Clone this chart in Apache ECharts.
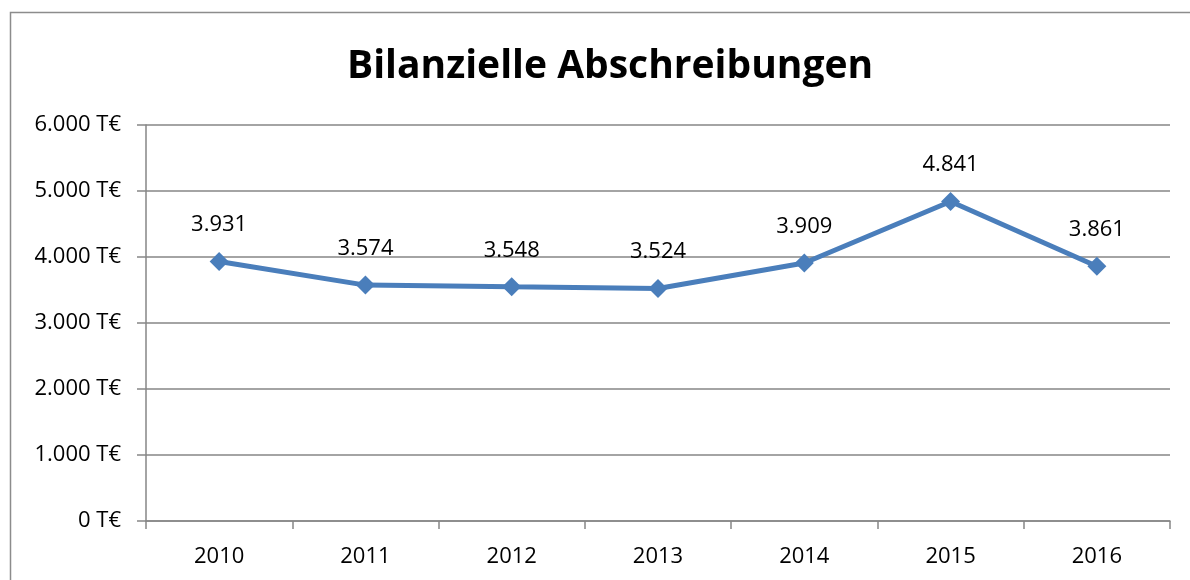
<!DOCTYPE html>
<html>
<head>
<meta charset="utf-8">
<script src="https://cdn.jsdelivr.net/npm/echarts@6/dist/echarts.min.js"></script>
<style>
  html, body { margin: 0; padding: 0; background: #fff; }
  #chart { width: 1190px; height: 580px; }
</style>
</head>
<body>
<div id="chart"></div>
<script>
// data
const years = ["2010", "2011", "2012", "2013", "2014", "2015", "2016"];
const abschreibungen = [3931, 3574, 3548, 3524, 3909, 4841, 3861];
const yTicks = [0, 1000, 2000, 3000, 4000, 5000, 6000];

const font = "'Open Sans', 'Noto Sans', sans-serif";

// 3931 -> "3.931"
function fmtDe(v) {
  return String(v).replace(/\B(?=(\d{3})+(?!\d))/g, ".");
}

let chart = echarts.init(document.getElementById("chart"));
chart.setOption({
  backgroundColor: "#fff",
  animation: false,
  title: {
    text: "Bilanzielle Abschreibungen",
    left: 342,
    top: 42,
    textStyle: { fontFamily: font, fontSize: 39, fontWeight: "bold", color: "#000" },
  },
  graphic: [
    {
      // chart area border (only left/top visible in reference)
      type: "rect",
      shape: { x: 10.5, y: 12.5, width: 1250, height: 650 },
      style: { fill: "none", stroke: "#8c8c8c", lineWidth: 1.5 },
      silent: true,
    },
  ],
  grid: { left: 146, right: 20, top: 125, bottom: 59 },
  xAxis: {
    type: "category",
    data: years,
    boundaryGap: true,
    axisLine: { lineStyle: { color: "#868686", width: 1.5 } },
    axisTick: { show: true, length: 8, lineStyle: { color: "#868686", width: 1.5 } },
    axisLabel: { fontFamily: font, fontSize: 22, color: "#000", margin: 25 },
  },
  yAxis: {
    type: "value",
    min: yTicks[0],
    max: yTicks[yTicks.length - 1],
    interval: 1000,
    axisLine: { show: true, lineStyle: { color: "#868686", width: 1.5 } },
    axisTick: { show: true, length: 9, lineStyle: { color: "#868686", width: 1.5 } },
    splitLine: { lineStyle: { color: "#868686", width: 1.5 } },
    axisLabel: {
      fontFamily: font,
      fontSize: 22,
      color: "#000",
      margin: 25,
      formatter: function (v) {
        return fmtDe(v) + " T€";
      },
    },
  },
  series: [
    {
      type: "line",
      data: abschreibungen,
      symbol: "diamond",
      symbolSize: 19,
      lineStyle: { color: "#4a7ebb", width: 5 },
      itemStyle: { color: "#4a7ebb" },
      label: {
        show: true,
        position: "top",
        distance: 16,
        fontFamily: font,
        fontSize: 22,
        color: "#000",
        formatter: function (p) {
          return fmtDe(p.value);
        },
      },
    },
  ],
});

window.onresize = function () {
  chart.resize();
};
</script>
</body>
</html>
